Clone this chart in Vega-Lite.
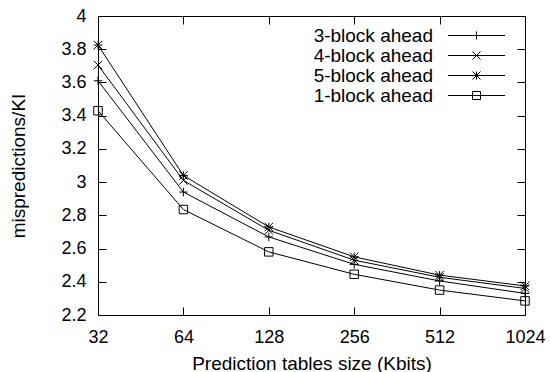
{
  "$schema": "https://vega.github.io/schema/vega-lite/v6.json",
  "width": 427,
  "height": 299,
  "autosize": {"type": "none"},
  "padding": {"left": 98, "top": 16, "right": 25, "bottom": 57},
  "config": {
    "font": "Liberation Sans",
    "view": {"stroke": "black", "strokeWidth": 1},
    "axis": {
      "domain": false,
      "grid": false,
      "ticks": true,
      "tickSize": -8,
      "tickColor": "black",
      "tickWidth": 1,
      "labelFontSize": 18,
      "labelColor": "black",
      "labelFont": "Liberation Sans",
      "titleFontSize": 19,
      "titleFontWeight": "normal",
      "titleColor": "black",
      "titleFont": "Liberation Sans"
    },
    "legend": {
      "labelFont": "Liberation Sans",
      "labelFontSize": 19,
      "labelColor": "black"
    }
  },
  "data": {
    "values": [
      {"series": "3-block ahead", "size": 32, "value": 3.61},
      {"series": "3-block ahead", "size": 64, "value": 2.94},
      {"series": "3-block ahead", "size": 128, "value": 2.67},
      {"series": "3-block ahead", "size": 256, "value": 2.505},
      {"series": "3-block ahead", "size": 512, "value": 2.405},
      {"series": "3-block ahead", "size": 1024, "value": 2.33},
      {"series": "4-block ahead", "size": 32, "value": 3.705},
      {"series": "4-block ahead", "size": 64, "value": 3.01},
      {"series": "4-block ahead", "size": 128, "value": 2.71},
      {"series": "4-block ahead", "size": 256, "value": 2.53},
      {"series": "4-block ahead", "size": 512, "value": 2.427},
      {"series": "4-block ahead", "size": 1024, "value": 2.36},
      {"series": "5-block ahead", "size": 32, "value": 3.825},
      {"series": "5-block ahead", "size": 64, "value": 3.04},
      {"series": "5-block ahead", "size": 128, "value": 2.73},
      {"series": "5-block ahead", "size": 256, "value": 2.55},
      {"series": "5-block ahead", "size": 512, "value": 2.44},
      {"series": "5-block ahead", "size": 1024, "value": 2.375},
      {"series": "1-block ahead", "size": 32, "value": 3.43},
      {"series": "1-block ahead", "size": 64, "value": 2.835},
      {"series": "1-block ahead", "size": 128, "value": 2.58},
      {"series": "1-block ahead", "size": 256, "value": 2.445},
      {"series": "1-block ahead", "size": 512, "value": 2.35},
      {"series": "1-block ahead", "size": 1024, "value": 2.285}
    ]
  },
  "encoding": {
    "x": {
      "field": "size",
      "type": "quantitative",
      "scale": {"type": "log", "base": 2, "domain": [32, 1024], "nice": false}
    },
    "y": {
      "field": "value",
      "type": "quantitative",
      "scale": {"domain": [2.2, 4], "nice": false, "zero": false}
    }
  },
  "layer": [
    {
      "mark": {"type": "line", "color": "black", "strokeWidth": 1},
      "encoding": {
        "detail": {"field": "series"},
        "x": {
          "field": "size",
          "type": "quantitative",
          "axis": {
            "orient": "bottom",
            "values": [32, 64, 128, 256, 512, 1024],
            "format": "d",
            "labelPadding": 21,
            "title": "Prediction tables size (Kbits)",
            "titlePadding": 8,
            "labelFlush": false
          }
        },
        "y": {
          "field": "value",
          "type": "quantitative",
          "axis": {
            "orient": "left",
            "values": [2.2, 2.4, 2.6, 2.8, 3, 3.2, 3.4, 3.6, 3.8, 4],
            "format": "~g",
            "labelPadding": 20,
            "title": "mispredictions/KI",
            "titlePadding": 32
          }
        }
      }
    },
    {
      "mark": {"type": "point", "filled": false, "color": "black", "strokeWidth": 1, "size": 72, "opacity": 1},
      "encoding": {
        "shape": {
          "field": "series",
          "type": "nominal",
          "scale": {
            "domain": ["3-block ahead", "4-block ahead", "5-block ahead", "1-block ahead"],
            "range": [
              "M-1,0H1M0,-1V1",
              "M-1,-1L1,1M-1,1L1,-1",
              "M-1,0H1M0,-1V1M-1,-1L1,1M-1,1L1,-1",
              "M-1,-1H1V1H-1Z"
            ]
          },
          "legend": null
        },
        "x": {
          "field": "size",
          "type": "quantitative",
          "axis": {"orient": "top", "values": [32, 64, 128, 256, 512, 1024], "labels": false, "title": null}
        },
        "y": {
          "field": "value",
          "type": "quantitative",
          "axis": {"orient": "right", "values": [2.2, 2.4, 2.6, 2.8, 3, 3.2, 3.4, 3.6, 3.8, 4], "labels": false, "title": null}
        }
      }
    },
    {
      "mark": {"type": "point", "filled": false, "color": "black", "opacity": 0},
      "encoding": {
        "shape": {
          "field": "series",
          "type": "nominal",
          "scale": {
            "domain": ["3-block ahead", "4-block ahead", "5-block ahead", "1-block ahead"],
            "range": [
              "M-5.7,0H5.7M0,-0.8V0.8",
              "M-5.7,0H5.7M-0.8,-0.8L0.8,0.8M-0.8,0.8L0.8,-0.8",
              "M-5.7,0H5.7M0,-0.8V0.8M-0.8,-0.8L0.8,0.8M-0.8,0.8L0.8,-0.8",
              "M-5.7,0H5.7M-0.8,-0.8H0.8V0.8H-0.8Z"
            ]
          },
          "legend": {
            "title": null,
            "orient": "none",
            "legendX": 369,
            "legendY": 10,
            "symbolSize": 100,
            "symbolStrokeWidth": 1,
            "symbolStrokeColor": "black",
            "symbolFillColor": "transparent",
            "symbolOpacity": 1,
            "labelAlign": "right",
            "labelOffset": -53,
            "rowPadding": 0,
            "padding": 0
          }
        },
        "x": {"field": "size", "type": "quantitative", "axis": null},
        "y": {"field": "value", "type": "quantitative", "axis": null}
      }
    }
  ],
  "resolve": {
    "scale": {"shape": "independent"},
    "axis": {"x": "independent", "y": "independent"}
  }
}
